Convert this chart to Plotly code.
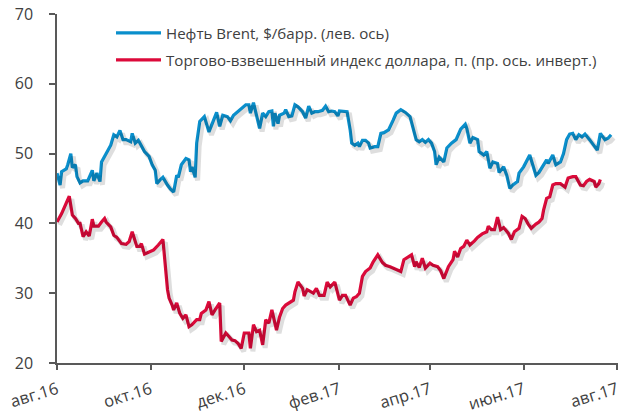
import pandas as pd
import plotly.graph_objects as go

START = "2016-08-01"

# Brent, $/bbl (left axis) – day offset from 1 Aug 2016, value
brent_days = [0, 2, 3, 6, 7, 9, 10, 12, 13, 15, 17, 20, 23, 24, 26, 28, 29, 32, 35, 37,
              39, 41, 43, 45, 48, 49, 51, 53, 55, 57, 60, 62, 64, 65, 67, 69, 72, 74, 76, 78,
              79, 81, 84, 86, 87, 88, 90, 91, 93, 95, 96, 99, 102, 104, 106, 108, 111, 113, 115, 118,
              120, 123, 125, 126, 128, 130, 132, 134, 136, 138, 140, 141, 142, 144, 145, 148, 149, 151, 153, 155,
              157, 160, 162, 164, 166, 168, 170, 173, 175, 177, 179, 181, 183, 184, 187, 189, 191, 192, 194, 196,
              197, 199, 201, 203, 204, 207, 209, 211, 213, 216, 219, 221, 224, 227, 230, 232, 234, 236, 238, 240,
              242, 244, 246, 247, 249, 252, 254, 257, 260, 263, 266, 267, 269, 271, 274, 275, 278, 280, 282, 284,
              287, 288, 291, 293, 295, 297, 300, 301, 304, 308, 310, 312, 314, 317, 319, 320, 323, 325, 328, 330,
              332, 334, 336, 338, 340, 342, 344, 347, 350, 352, 354, 357, 359, 361]
brent_vals = [47.2, 45.5, 47.4, 47.8, 48.4, 50.0, 48.0, 48.4, 46.7, 45.8, 46.1, 46.1, 47.6, 46.1, 47.2, 46.0, 48.8, 50.0, 51.2, 52.7,
              52.4, 53.3, 52.0, 52.0, 51.7, 52.9, 51.5, 51.9, 51.2, 50.3, 49.6, 48.4, 47.6, 45.7, 46.2, 46.6, 45.5, 44.9, 44.5, 46.9,
              46.6, 48.4, 49.3, 49.1, 47.4, 48.1, 46.6, 51.5, 54.6, 55.1, 55.3, 53.1, 54.8, 55.9, 53.9, 55.5, 55.3, 54.7, 55.5, 56.1,
              56.5, 57.0, 57.0, 55.8, 57.3, 55.3, 53.6, 55.8, 55.3, 56.0, 56.1, 53.9, 55.8, 54.3, 55.5, 55.8, 56.3, 55.3, 55.4, 57.0,
              56.7, 56.0, 55.1, 56.8, 55.8, 56.0, 56.0, 56.2, 56.8, 56.0, 56.1, 56.0, 55.4, 56.1, 56.1, 56.0, 53.4, 51.5, 51.2, 51.5,
              51.0, 51.9, 51.9, 51.5, 50.8, 51.0, 51.0, 52.9, 53.0, 53.4, 54.8, 55.8, 56.3, 55.9, 55.3, 53.4, 52.0, 51.7, 52.0, 51.6,
              52.0, 51.5, 50.3, 48.4, 49.5, 48.8, 50.8, 51.5, 52.0, 53.5, 54.2, 53.6, 51.5, 52.3, 52.0, 50.3, 49.8, 50.3, 47.9, 48.8,
              48.6, 47.3, 48.1, 46.9, 45.0, 45.5, 46.0, 47.2, 48.1, 49.8, 48.4, 46.9, 47.3, 48.4, 49.1, 48.6, 49.8, 48.4, 48.8, 50.0,
              52.0, 52.8, 52.9, 52.0, 52.7, 52.4, 52.8, 52.0, 51.2, 50.5, 52.9, 52.0, 52.2, 52.7]

# Trade-weighted dollar index (inverted right axis, shown in left-axis units)
usd_days = [0, 3, 6, 8, 10, 12, 14, 15, 17, 19, 21, 23, 24, 27, 29, 31, 32, 35, 37, 39,
            42, 45, 47, 49, 52, 54, 55, 57, 60, 63, 66, 68, 69, 72, 73, 75, 76, 78, 80, 82,
            84, 86, 88, 91, 93, 94, 97, 99, 101, 103, 106, 107, 110, 112, 114, 116, 118, 120, 122, 125,
            126, 128, 130, 132, 134, 136, 138, 140, 143, 145, 147, 149, 151, 154, 155, 157, 160, 161, 163, 165,
            167, 169, 171, 174, 176, 178, 181, 184, 186, 188, 191, 193, 195, 197, 199, 201, 204, 206, 209, 212,
            214, 217, 219, 221, 224, 226, 229, 231, 233, 234, 236, 238, 240, 243, 245, 248, 250, 252, 255, 258,
            259, 261, 263, 265, 267, 269, 272, 274, 277, 280, 281, 283, 285, 287, 289, 291, 294, 296, 298, 301,
            303, 305, 307, 309, 312, 314, 316, 317, 319, 321, 323, 325, 328, 331, 333, 336, 338, 341, 343, 345,
            347, 350, 351, 353, 354]
usd_vals = [40.2, 41.4, 42.9, 43.9, 41.2, 40.7, 40.0, 40.0, 38.1, 38.8, 38.2, 40.6, 39.6, 39.6, 40.2, 40.7, 40.2, 39.5, 38.3, 38.0,
            37.1, 37.0, 37.4, 38.8, 36.7, 36.7, 37.1, 35.6, 35.9, 36.2, 36.9, 37.4, 37.7, 30.5, 29.3, 28.3, 27.6, 28.6, 27.1, 26.4,
            26.9, 25.2, 25.5, 26.2, 26.2, 27.1, 27.6, 28.8, 26.9, 27.6, 28.6, 23.1, 24.3, 23.8, 23.3, 23.2, 22.8, 22.1, 24.3, 24.3,
            22.1, 25.5, 24.5, 24.7, 22.6, 26.2, 25.7, 27.6, 24.7, 26.6, 27.8, 28.3, 28.6, 29.0, 30.2, 31.6, 30.7, 29.6, 30.5, 30.2,
            30.0, 30.7, 29.7, 29.7, 31.6, 30.9, 31.6, 29.0, 29.7, 29.7, 28.3, 29.3, 29.5, 30.0, 32.4, 33.1, 33.6, 34.5, 35.5, 34.4,
            34.0, 33.8, 33.6, 33.3, 33.1, 34.8, 35.2, 35.5, 33.8, 34.5, 33.7, 35.0, 33.6, 34.3, 34.0, 33.8, 33.2, 32.1, 33.8, 34.8,
            36.0, 35.2, 36.4, 36.7, 37.6, 36.9, 37.5, 38.0, 38.5, 38.8, 39.6, 39.1, 39.1, 40.9, 39.1, 39.4, 38.6, 37.7, 38.8, 39.3,
            41.0, 40.7, 39.9, 39.3, 39.9, 40.2, 40.7, 41.9, 43.6, 43.8, 45.5, 45.7, 45.7, 45.2, 46.5, 46.7, 46.7, 45.5, 45.4, 46.0,
            46.3, 46.0, 45.2, 45.7, 46.3]

tick_vals = ["2016-08-01", "2016-10-01", "2016-12-01", "2017-02-01", "2017-04-01", "2017-06-01", "2017-08-01"]
tick_text = ["авг.16", "окт.16", "дек.16", "фев.17", "апр.17", "июн.17", "авг.17"]

name_brent = "Нефть Brent, $/барр. (лев. ось)"
name_usd = "Торгово-взвешенный индекс доллара, п. (пр. ось. инверт.)"

start = pd.Timestamp(START)
brent_x = [(start + pd.Timedelta(days=d)).strftime("%Y-%m-%d") for d in brent_days]
usd_x = [(start + pd.Timedelta(days=d)).strftime("%Y-%m-%d") for d in usd_days]

BLUE = "#0A8FCC"
RED = "#DC0A3A"
GREY = "#595959"
FONT = "Open Sans"

x_lo, x_hi = pd.Timestamp("2016-08-01"), pd.Timestamp("2017-08-01 12:00")
y_range = [20, 70]

# shadow offset via overlaid axes (pixel shift of ~2.5 px right, 3 px down)
plot_w, plot_h = 561, 349
span_days = (x_hi - x_lo).total_seconds() / 86400
dx = pd.Timedelta(days=span_days * 2.5 / plot_w)
dy = (y_range[1] - y_range[0]) * 3.0 / plot_h
fmt = "%Y-%m-%d %H:%M:%S"

fig = go.Figure()
shadow = dict(color="rgba(0,0,0,0.13)", width=5)
fig.add_trace(go.Scatter(x=brent_x, y=brent_vals, mode="lines", line=shadow,
                         xaxis="x2", yaxis="y2", showlegend=False, hoverinfo="skip"))
fig.add_trace(go.Scatter(x=usd_x, y=usd_vals, mode="lines", line=shadow,
                         xaxis="x2", yaxis="y2", showlegend=False, hoverinfo="skip"))
fig.add_trace(go.Scatter(x=brent_x, y=brent_vals, mode="lines", name=name_brent,
                         line=dict(color=BLUE, width=3.2), legend="legend"))
fig.add_trace(go.Scatter(x=usd_x, y=usd_vals, mode="lines", name=name_usd,
                         line=dict(color=RED, width=3.2), legend="legend2"))

legend_common = dict(xanchor="left", yanchor="middle",
                     bgcolor="rgba(0,0,0,0)", borderwidth=0,
                     font=dict(family=FONT, size=15.1, color="#404040"), itemwidth=45)

fig.update_layout(
    width=619, height=411,
    margin=dict(l=57, r=1, t=14, b=48, autoexpand=False),
    paper_bgcolor="white", plot_bgcolor="white",
    font=dict(family=FONT, color="#404040"),
    xaxis=dict(type="date", range=[x_lo.strftime(fmt), x_hi.strftime(fmt)],
               tickvals=tick_vals, ticktext=tick_text, ticklabeloverflow="allow",
               tickangle=-17, ticks="outside", ticklen=5, tickcolor=GREY, tickwidth=1.5,
               showline=True, linecolor=GREY, linewidth=1.5, showgrid=False, zeroline=False,
               tickfont=dict(family=FONT, size=16.5, color="#404040"), ticklabelstandoff=4),
    yaxis=dict(range=y_range, dtick=10, ticks="outside", ticklen=6, tickcolor=GREY, tickwidth=1.5,
               showline=True, linecolor=GREY, linewidth=1.5, showgrid=False, zeroline=False,
               tickfont=dict(family=FONT, size=16, color="#404040"), ticklabelstandoff=13),
    xaxis2=dict(type="date", range=[(x_lo - dx).strftime(fmt), (x_hi - dx).strftime(fmt)],
                overlaying="x", anchor="y", visible=False, showgrid=False),
    yaxis2=dict(range=[y_range[0] + dy, y_range[1] + dy], overlaying="y", anchor="x",
                visible=False, showgrid=False),
    legend=dict(x=(111 - 57) / 561, y=(363 - 33) / 349, **legend_common),
    legend2=dict(x=(111 - 57) / 561, y=(363 - 60) / 349, **legend_common),
)

# remove the default 8 px page margin so the figure fills the window exactly
fig.write_html("out.html", config={"displayModeBar": False},
               post_script="document.body.style.margin='0';")
